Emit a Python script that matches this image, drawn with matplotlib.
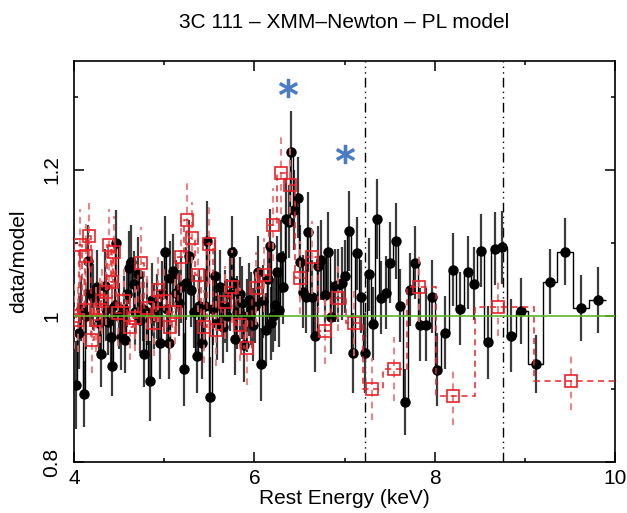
import numpy as np
import matplotlib
matplotlib.use("Agg")
import matplotlib.pyplot as plt

plt.rcParams['font.family'] = ['Liberation Sans', 'DejaVu Sans']

# ---------------- data ----------------
title = "3C 111 \u2013 XMM\u2013Newton \u2013 PL model"
xlabel = "Rest Energy (keV)"
ylabel = "data/model"

# black (filled circles) ratio points
blk_x = [4.02, 4.05, 4.08, 4.11, 4.13, 4.16, 4.19, 4.21, 4.25, 4.28,
         4.30, 4.34, 4.36, 4.38, 4.41, 4.42, 4.45, 4.47, 4.50, 4.52,
         4.55, 4.57, 4.59, 4.61, 4.63, 4.66, 4.68, 4.71, 4.73, 4.76,
         4.78, 4.81, 4.84, 4.86, 4.89, 4.92, 4.95, 4.98, 5.01, 5.03,
         5.05, 5.07, 5.10, 5.13, 5.16, 5.19, 5.22, 5.24, 5.27, 5.30,
         5.33, 5.36, 5.39, 5.42, 5.45, 5.48, 5.51, 5.54, 5.56, 5.59,
         5.62, 5.65, 5.67, 5.70, 5.73, 5.75, 5.77, 5.79, 5.81, 5.84,
         5.86, 5.89, 5.92, 5.94, 5.96, 5.98, 6.01, 6.04, 6.07, 6.10,
         6.13, 6.15, 6.17, 6.19, 6.21, 6.23, 6.25, 6.27, 6.30, 6.32,
         6.35, 6.38, 6.41, 6.44, 6.48, 6.51, 6.54, 6.57, 6.60, 6.64,
         6.67, 6.71, 6.74, 6.78, 6.82, 6.85, 6.89, 6.93, 6.97, 7.01,
         7.05, 7.09, 7.14, 7.18, 7.23, 7.27, 7.32, 7.36, 7.41, 7.46,
         7.51, 7.57, 7.62, 7.67, 7.73, 7.78, 7.84, 7.90, 7.97, 8.03,
         8.11, 8.20, 8.28, 8.37, 8.44, 8.51, 8.59, 8.67, 8.75, 8.85,
         8.96, 9.12, 9.28, 9.44, 9.62, 9.81]
blk_y = [0.905, 0.977, 1.010, 0.893, 1.000, 1.075, 1.030, 1.026, 1.040, 0.990,
         0.948, 1.041, 1.010, 0.992, 0.971, 0.931, 1.015, 1.100, 1.000, 0.971,
         1.010, 0.967, 1.030, 1.066, 1.074, 1.044, 1.005, 1.058, 0.994, 1.010,
         0.948, 1.005, 0.911, 1.022, 1.000, 1.013, 0.963, 1.030, 1.087, 1.010,
         0.963, 1.052, 1.062, 1.031, 1.018, 1.040, 0.927, 1.045, 1.082, 1.035,
         1.006, 0.945, 1.013, 0.963, 1.014, 1.102, 0.889, 1.010, 1.054, 0.990,
         1.040, 0.985, 1.013, 1.000, 1.030, 1.087, 1.045, 0.969, 1.005, 1.030,
         1.018, 0.960, 1.000, 1.022, 1.010, 0.988, 1.013, 1.060, 0.934, 1.020,
         0.981, 1.050, 1.096, 0.990, 1.000, 1.015, 1.060, 1.008, 1.081, 1.039,
         1.133, 1.129, 1.225, 1.145, 1.162, 1.074, 1.033, 1.026, 1.115, 1.026,
         0.973, 1.068, 1.077, 1.028, 1.087, 0.998, 1.041, 1.042, 1.045, 1.054,
         1.116, 0.949, 1.086, 1.026, 0.949, 1.057, 0.989, 1.133, 1.025, 1.032,
         1.073, 1.103, 1.014, 0.882, 1.036, 1.073, 0.988, 0.988, 1.026, 0.926,
         0.977, 1.063, 1.010, 1.060, 1.044, 1.089, 0.964, 1.092, 1.094, 0.973,
         1.007, 0.934, 1.047, 1.088, 1.011, 1.022]
blk_err = [0.060, 0.050, 0.045, 0.045, 0.045, 0.050, 0.045, 0.045, 0.050, 0.045,
           0.045, 0.050, 0.045, 0.045, 0.045, 0.040, 0.045, 0.045, 0.045, 0.045,
           0.045, 0.045, 0.045, 0.050, 0.050, 0.045, 0.045, 0.050, 0.045, 0.045,
           0.045, 0.045, 0.055, 0.050, 0.045, 0.045, 0.050, 0.045, 0.050, 0.045,
           0.050, 0.050, 0.050, 0.045, 0.045, 0.050, 0.050, 0.050, 0.050, 0.050,
           0.050, 0.050, 0.050, 0.050, 0.050, 0.055, 0.055, 0.050, 0.050, 0.050,
           0.050, 0.050, 0.050, 0.050, 0.050, 0.050, 0.050, 0.050, 0.050, 0.050,
           0.050, 0.050, 0.050, 0.050, 0.050, 0.050, 0.050, 0.050, 0.050, 0.050,
           0.050, 0.050, 0.050, 0.050, 0.050, 0.050, 0.050, 0.050, 0.050, 0.050,
           0.055, 0.050, 0.055, 0.055, 0.055, 0.050, 0.050, 0.050, 0.055, 0.050,
           0.050, 0.055, 0.055, 0.050, 0.055, 0.050, 0.050, 0.050, 0.050, 0.050,
           0.055, 0.055, 0.050, 0.050, 0.055, 0.050, 0.050, 0.055, 0.050, 0.050,
           0.055, 0.052, 0.050, 0.045, 0.050, 0.050, 0.050, 0.050, 0.050, 0.050,
           0.050, 0.050, 0.050, 0.050, 0.050, 0.050, 0.050, 0.050, 0.050, 0.050,
           0.045, 0.040, 0.045, 0.046, 0.045, 0.045]

# red (open squares) ratio points
red_x = [4.00, 4.04, 4.07, 4.11, 4.13, 4.17, 4.20, 4.24, 4.29, 4.31,
         4.35, 4.39, 4.42, 4.44, 4.49, 4.56, 4.62, 4.68, 4.74, 4.81,
         4.89, 4.93, 5.00, 5.06, 5.12, 5.19, 5.25, 5.31, 5.38, 5.44,
         5.50, 5.58, 5.67, 5.75, 5.84, 5.92, 6.02, 6.11, 6.21, 6.30,
         6.40, 6.51, 6.64, 6.78, 6.93, 7.11, 7.31, 7.55, 7.83, 8.20,
         8.70, 9.51]
red_y = [1.000, 0.995, 1.097, 1.008, 1.082, 1.110, 0.967, 0.995, 1.008, 1.020,
         1.033, 1.097, 1.047, 1.087, 1.004, 1.020, 0.985, 0.997, 1.072, 1.011,
         0.990, 1.036, 1.020, 0.985, 1.006, 1.081, 1.132, 1.106, 1.056, 0.985,
         1.099, 0.981, 1.019, 1.040, 0.988, 0.956, 1.038, 1.056, 1.125, 1.195,
         1.179, 1.052, 1.080, 0.979, 1.025, 0.990, 0.900, 0.927, 1.040, 0.890,
         1.012, 0.911]
red_err = [0.045, 0.045, 0.050, 0.045, 0.045, 0.045, 0.045, 0.045, 0.045, 0.045,
           0.045, 0.050, 0.045, 0.050, 0.045, 0.045, 0.045, 0.045, 0.050, 0.045,
           0.045, 0.045, 0.045, 0.045, 0.045, 0.050, 0.055, 0.050, 0.050, 0.050,
           0.055, 0.050, 0.050, 0.050, 0.050, 0.050, 0.050, 0.050, 0.050, 0.055,
           0.055, 0.050, 0.050, 0.045, 0.045, 0.045, 0.042, 0.044, 0.048, 0.040,
           0.040, 0.040]

model_level = [1.0]
edge_x = [7.23, 8.76]          # vertical dash-dot markers
star_x = [6.37, 7.00]
star_y = [1.312, 1.222]

xlim = (4, 10)
ylim = (0.8, 1.349)
xticks = [4, 6, 8, 10]
xtick_labels = ["4", "6", "8", "10"]
yticks = [0.8, 1.0, 1.2]
ytick_labels = ["0.8", "1", "1.2"]


def bin_edges(x, last=None):
    x = np.asarray(x)
    mids = (x[1:] + x[:-1]) / 2
    first = x[0] - (x[1] - x[0]) / 2
    end = x[-1] + (x[-1] - x[-2]) / 2 if last is None else last
    return np.concatenate([[first], mids, [end]])


# ---------------- figure ----------------
fig = plt.figure(figsize=(6.27, 5.13), dpi=100)
ax = fig.add_axes([74 / 627, 51 / 513, 541 / 627, 401 / 513])

# black data
ax.errorbar(blk_x, blk_y, yerr=blk_err, fmt='none', ecolor='#3c3c3c',
            elinewidth=1.6, capsize=0, zorder=2)
ax.stairs(blk_y, bin_edges(blk_x), color='black', lw=1.0, baseline=None, zorder=3)
ax.plot(blk_x, blk_y, 'o', color='black', ms=6.5, zorder=4)

# red data
(_, _, bars) = ax.errorbar(red_x, red_y, yerr=red_err, fmt='none',
                           ecolor='#f06a6a', elinewidth=1.2, capsize=0, zorder=5)
for b in bars:
    b.set_linestyle((0, (4, 3)))
ax.stairs(red_y, bin_edges(red_x, last=xlim[1]), color='#e8232a', lw=1.1,
          linestyle=(0, (4, 3)), baseline=None, zorder=5)
ax.plot(red_x, red_y, 's', mfc='none', mec='#e8232a', mew=1.2, ms=9, zorder=6)

# model line
for lv in model_level:
    ax.axhline(lv, color='#5cb52e', lw=1.2, zorder=7)

# vertical edge lines
for ex in edge_x:
    ax.axvline(ex, color='black', lw=1.0, linestyle=(0, (7, 3, 1, 3, 1, 3)), zorder=1)

# asterisks
ax.plot(star_x, star_y, linestyle='none', marker='$*$', ms=13, color='#4a7cc3', zorder=8)

ax.set_xlim(*xlim)
ax.set_ylim(*ylim)
ax.set_xticks(xticks)
ax.set_xticklabels(xtick_labels)
ax.set_xticks([5, 7, 9], minor=True)
ax.set_yticks(yticks)
ax.set_yticklabels(ytick_labels, rotation=90, va='center')
ax.set_yticks([0.9, 1.1, 1.3], minor=True)
ax.tick_params(which='both', direction='in', top=True, right=True, labelsize=15,
               width=1.1, color='black')
ax.tick_params(which='major', length=7)
ax.tick_params(which='minor', length=3.2)
ax.tick_params(axis='x', pad=5)
ax.tick_params(axis='y', pad=9)
for s in ax.spines.values():
    s.set_linewidth(1.2)

ax.set_xlabel(xlabel, fontsize=15, labelpad=1)
ax.set_ylabel(ylabel, fontsize=15, labelpad=10)
fig.text((74 + 615) / 2 / 627, 1 - 22 / 513, title, ha='center', va='center', fontsize=15)

fig.savefig('out.png', dpi=100)
